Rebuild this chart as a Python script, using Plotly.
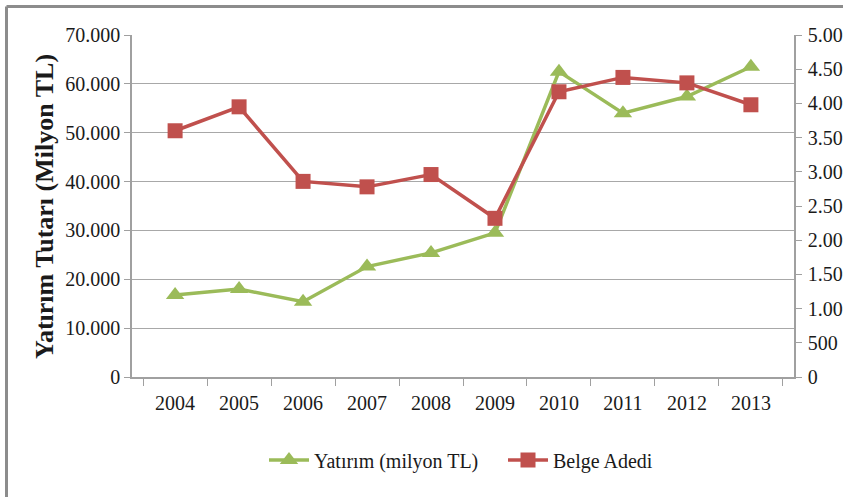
import plotly.graph_objects as go

years = ["2004", "2005", "2006", "2007", "2008", "2009", "2010", "2011", "2012", "2013"]
yatirim = [16800, 18000, 15400, 22600, 25400, 29500, 62500, 54000, 57400, 63500]
belge = [3600, 3950, 2860, 2780, 2960, 2320, 4170, 4380, 4300, 3980]

GREEN = "#9BBB59"
RED = "#C0504D"
AXIS = "#a0a0a0"
FONT = "Liberation Serif"

W, H = 843, 497
ML, MR, MT, MB = 132, 49, 35, 120
PW, PH = W - ML - MR, H - MT - MB

def px(x):
    return (x - ML) / PW

def py(y):
    return (H - MB - y) / PH

fig = go.Figure()
fig.add_trace(go.Scatter(
    x=years, y=yatirim, name="Yatırım (milyon TL)", mode="lines+markers",
    line=dict(color=GREEN, width=3.5),
    marker=dict(symbol="triangle-up", size=16, color=GREEN),
    yaxis="y",
))
fig.add_trace(go.Scatter(
    x=years, y=belge, name="Belge Adedi", mode="lines+markers",
    line=dict(color=RED, width=3.5),
    marker=dict(symbol="square", size=15, color=RED),
    yaxis="y2",
))

fig.update_layout(
    width=W, height=H,
    margin=dict(l=ML, r=MR, t=MT, b=MB, autoexpand=False),
    paper_bgcolor="white", plot_bgcolor="white",
    separators=",.",
    font=dict(family=FONT, size=20, color="#1a1a1a"),
    showlegend=True,
    legend=dict(orientation="h", x=px(264), xanchor="left", y=py(460), yanchor="middle",
                font=dict(family=FONT, size=20), itemwidth=40, traceorder="normal",
                entrywidth=184, entrywidthmode="pixels"),
    xaxis=dict(type="category", showgrid=False, showline=True, linecolor=AXIS, linewidth=1.5,
               ticks="outside", tickson="boundaries", ticklen=7, tickcolor=AXIS,
               ticklabelstandoff=7,
               tickfont=dict(family=FONT, size=20), automargin=False),
    yaxis=dict(range=[0, 70000], dtick=10000, tickformat=",d", showgrid=True,
               gridcolor="#a8a8a8", gridwidth=1.2, showline=True, linecolor=AXIS, linewidth=1.5,
               ticks="outside", ticklen=6, tickcolor=AXIS, zeroline=False,
               tickfont=dict(family=FONT, size=20), automargin=False),
    yaxis2=dict(range=[0, 5000], dtick=500, tickformat=",d", overlaying="y", side="right",
                showgrid=False, showline=True, linecolor=AXIS, linewidth=1.5,
                ticks="outside", ticklen=6, tickcolor=AXIS, zeroline=False,
                ticklabelstandoff=2,
                tickfont=dict(family=FONT, size=20), automargin=False),
)

fig.add_annotation(
    text="<b>Yatırım Tutarı (Milyon TL)</b>", textangle=-90,
    xref="paper", yref="paper", x=px(44), y=py(207), xanchor="center", yanchor="middle",
    showarrow=False, font=dict(family=FONT, size=26, color="#1a1a1a"),
)

# outer frame (left and top edges)
fig.add_shape(type="line", xref="paper", yref="paper",
              x0=px(6.5), x1=px(6.5), y0=py(6.5), y1=py(510),
              line=dict(color="#8c8c8c", width=3))
fig.add_shape(type="line", xref="paper", yref="paper",
              x0=px(6.5), x1=px(860), y0=py(6.5), y1=py(6.5),
              line=dict(color="#8c8c8c", width=3))

fig.write_html("out.html", config={"displayModeBar": False},
               post_script="document.body.style.margin='0';")
